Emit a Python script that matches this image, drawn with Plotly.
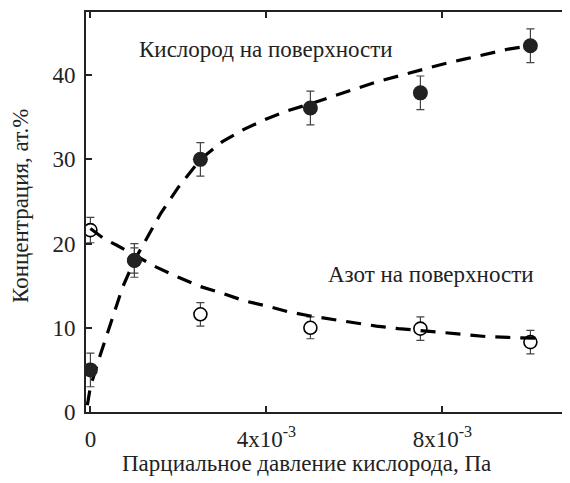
import plotly.graph_objects as go

# Measured points (x in Pa)
x_pts = [0.0, 1.0e-3, 2.5e-3, 5.0e-3, 7.5e-3, 10.0e-3]
oxygen = [5.0, 18.0, 30.0, 36.1, 37.9, 43.5]
oxygen_err = [2.0, 2.0, 2.0, 2.0, 2.0, 2.0]
nitrogen = [21.6, 18.0, 11.6, 10.0, 9.9, 8.3]
nitrogen_err = [1.5, 1.5, 1.4, 1.3, 1.4, 1.4]

# Fitted (dashed) curves
ox_fit_x = [-0.07e-3, 0.0, 0.2e-3, 0.43e-3, 0.73e-3, 1.0e-3, 1.3e-3, 1.6e-3, 2.0e-3,
            2.5e-3, 3.0e-3, 3.5e-3, 4.0e-3, 4.5e-3, 5.0e-3, 5.5e-3, 6.0e-3, 6.5e-3,
            7.0e-3, 7.5e-3, 8.0e-3, 8.5e-3, 9.0e-3, 9.5e-3, 10.0e-3]
ox_fit_y = [0.8, 3.0, 6.4, 10.0, 14.8, 18.0, 20.8, 23.6, 26.7,
            30.0, 32.1, 33.6, 34.8, 35.8, 36.6, 37.5, 38.4, 39.2,
            39.9, 40.6, 41.3, 41.9, 42.5, 43.1, 43.5]
n_fit_x = [0.0, 0.3e-3, 0.6e-3, 1.0e-3, 1.5e-3, 2.0e-3, 2.5e-3, 3.0e-3, 3.5e-3,
           4.0e-3, 4.5e-3, 5.0e-3, 5.5e-3, 6.0e-3, 6.5e-3, 7.0e-3, 7.5e-3,
           8.0e-3, 8.5e-3, 9.0e-3, 9.5e-3, 10.2e-3]
n_fit_y = [21.8, 20.6, 19.8, 18.6, 17.2, 16.0, 14.9, 14.1, 13.2,
           12.6, 11.9, 11.4, 11.0, 10.6, 10.2, 9.9, 9.7,
           9.45, 9.2, 8.95, 8.85, 8.75]

x_tickvals = [0, 4e-3, 8e-3]
x_ticktext = ["0", "4x10<sup>-3</sup>", "8x10<sup>-3</sup>"]
y_tickvals = [0, 10, 20, 30, 40]

label_oxygen = "Кислород на поверхности"
label_nitrogen = "Азот на поверхности"
x_title = "Парциальное давление кислорода, Па"
y_title = "Концентрация, ат.%"

FONT = "Liberation Serif"
INK = "#222"
err_style = dict(type="data", thickness=1.2, width=4, color="#444")

fig = go.Figure()
fig.add_trace(go.Scatter(
    x=x_pts, y=nitrogen, mode="markers",
    error_y=dict(array=nitrogen_err, **err_style),
    marker=dict(symbol="circle", size=13, color="white",
                line=dict(color="black", width=1.6)),
    showlegend=False))
fig.add_trace(go.Scatter(
    x=n_fit_x, y=n_fit_y, mode="lines",
    line=dict(color="black", width=3.2, dash="15px,10px"),
    showlegend=False))
fig.add_trace(go.Scatter(
    x=ox_fit_x, y=ox_fit_y, mode="lines",
    line=dict(color="black", width=3.2, dash="15px,10px"),
    showlegend=False))
fig.add_trace(go.Scatter(
    x=x_pts, y=oxygen, mode="markers",
    error_y=dict(array=oxygen_err, **err_style),
    marker=dict(symbol="circle", size=15, color=INK,
                line=dict(color=INK, width=0)),
    showlegend=False))

# the page body has an 8px default margin: shift everything up-left by it
OFF = 8
W, H = 570 - OFF, 483 - OFF
L, R, T, B = 86 - OFF, 0, 12 - OFF, 71
pw, ph = W - L - R, H - T - B


def px(xp):
    return (xp - OFF - L) / pw


def py(yp):
    return 1 - (yp - OFF - T) / ph


def note(text, xp, yp, size, angle=0):
    fig.add_annotation(x=px(xp), y=py(yp), xref="paper", yref="paper", text=text,
                       showarrow=False, textangle=angle,
                       xanchor="center", yanchor="middle",
                       font=dict(family=FONT, size=size, color=INK))


note(label_oxygen, 266, 49, 23)
note(label_nitrogen, 431, 274, 23)
note(x_title, 306, 464, 23)
note(y_title, 20, 206, 23, angle=-90)

fig.update_layout(
    width=W, height=H,
    margin=dict(l=L, r=R, t=T, b=B, autoexpand=False),
    paper_bgcolor="white", plot_bgcolor="white",
    font=dict(family=FONT, color=INK),
    xaxis=dict(range=[-0.1e-3, 10.9e-3], tickvals=x_tickvals, ticktext=x_ticktext,
               showline=True, linecolor=INK, linewidth=2, mirror="allticks",
               ticks="inside", ticklen=6, tickwidth=2, tickcolor=INK,
               showgrid=False, zeroline=False, automargin=False,
               tickfont=dict(family=FONT, size=23, color=INK),
               ticklabelstandoff=5),
    yaxis=dict(range=[0, 47.5], tickvals=y_tickvals,
               showline=True, linecolor=INK, linewidth=2, mirror="ticks",
               ticks="inside", ticklen=6, tickwidth=2, tickcolor=INK,
               showgrid=False, zeroline=False, automargin=False,
               tickfont=dict(family=FONT, size=23, color=INK),
               ticklabelstandoff=4),
)

fig.write_html("out.html")
